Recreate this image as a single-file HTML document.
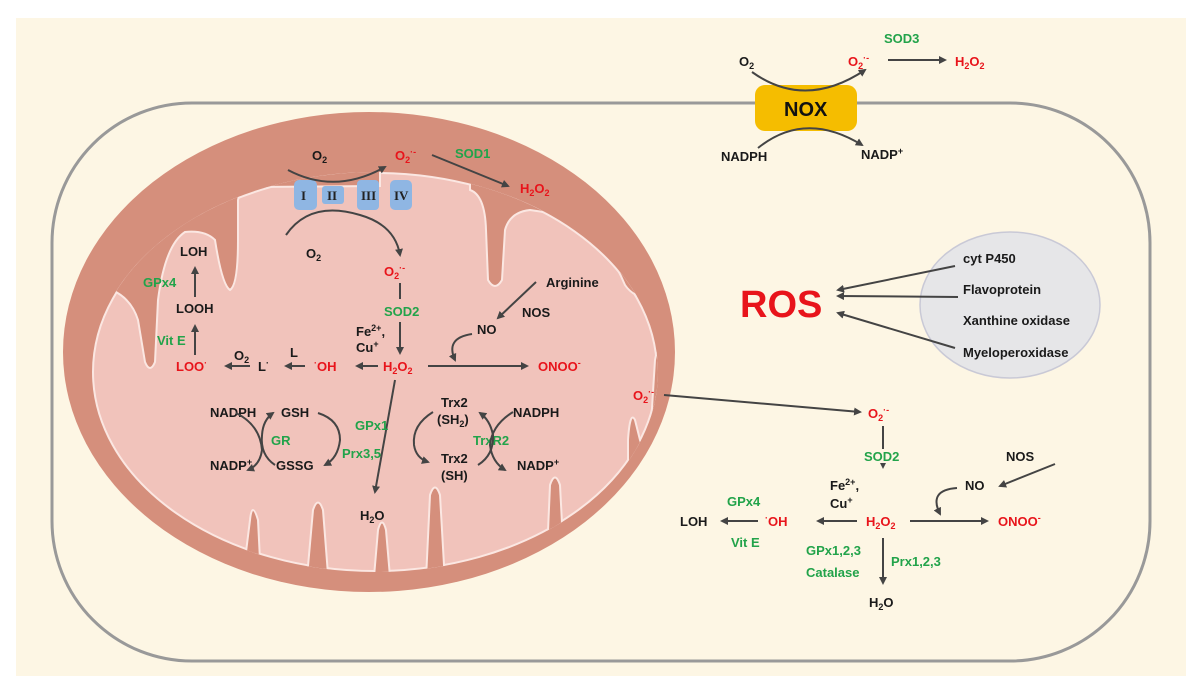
<!DOCTYPE html>
<html><head><meta charset="utf-8"><style>
html,body{margin:0;padding:0;background:#fff;}
svg{display:block;font-family:"Liberation Sans",Arial,sans-serif;font-weight:bold;}
.k{fill:#1a1a1a;font-size:13px}
.r{fill:#e8141b;font-size:13px}
.g{fill:#22a34a;font-size:13px}
.ln{stroke:#444;stroke-width:2;fill:none}
.f{fill:#d58f7c;stroke:#fbe7e2;stroke-width:2}
</style></head><body>
<svg width="1200" height="689" viewBox="0 0 1200 689" xmlns="http://www.w3.org/2000/svg">
<defs>
<marker id="a" markerWidth="8" markerHeight="8" refX="6" refY="4" orient="auto" markerUnits="userSpaceOnUse"><path d="M0,0 L8,4 L0,8 z" fill="#444"/></marker>
<clipPath id="c"><ellipse cx="375" cy="372" rx="283" ry="200"/></clipPath>
</defs>
<rect x="16" y="18" width="1170" height="658" fill="#fdf6e4"/>
<rect x="52" y="103" width="1098" height="558" rx="140" fill="#fdf6e4" stroke="#999" stroke-width="3"/>
<!-- mitochondrion -->
<ellipse cx="369" cy="352" rx="306" ry="240" fill="#d58f7c"/>
<ellipse cx="375" cy="372" rx="282" ry="199" fill="#f1c3bb" stroke="#fbe7e2" stroke-width="2"/>
<g clip-path="url(#c)">
<path class="f" d="M90,150 L90,285 Q128,288 138,320 L145,362 Q150,374 155,362 L158,300 Q165,245 185,232 Q205,230 215,240 Q222,285 230,290 Q238,285 238,240 L238,200 Q240,188 255,187 L380,186 L380,150 Z"/>
<path class="f" d="M470,150 L470,190 Q485,195 486,230 L488,280 Q495,292 502,280 L505,230 Q510,212 530,210 Q570,215 590,232 L600,150 Z"/>
<path class="f" d="M600,150 L590,232 Q610,250 625,285 Q635,300 660,300 L700,300 L700,150 Z"/>
<path class="f" d="M700,330 Q660,330 655,360 L650,440 Q646,455 640,440 L635,420 Q630,410 628,440 L628,600 L700,600 Z"/>
<path class="f" d="M240,600 L250,520 Q252,500 258,520 L262,600 Z"/>
<path class="f" d="M305,600 L313,510 Q318,495 323,510 L330,600 Z"/>
<path class="f" d="M372,600 L378,530 Q382,515 386,530 L392,600 Z"/>
<path class="f" d="M425,600 L430,495 Q435,480 440,495 L446,600 Z"/>
<path class="f" d="M545,600 L550,485 Q555,470 560,485 L566,600 Z"/>
</g>
<!-- ETC complexes -->
<rect x="294" y="180" width="23" height="30" rx="5" fill="#8fb6e3"/>
<rect x="322" y="186" width="22" height="18" rx="3" fill="#8fb6e3"/>
<rect x="357" y="180" width="22" height="30" rx="4" fill="#8fb6e3"/>
<rect x="390" y="180" width="22" height="30" rx="5" fill="#8fb6e3"/>
<g font-family="Liberation Serif,serif" font-size="13" fill="#222"><text x="301" y="200">I</text><text x="327" y="200">II</text><text x="361" y="200">III</text><text x="394" y="200">IV</text></g>
<path class="ln" d="M288,170 Q335,195 385,167" marker-end="url(#a)"/>
<path class="ln" d="M286,235 Q310,200 360,215 Q395,225 400,255" marker-end="url(#a)"/>
<text class="k" x="312" y="160">O<tspan font-size="9" dy="3">2</tspan></text>
<text class="r" x="395" y="160">O<tspan font-size="9" dy="3">2</tspan><tspan font-size="9" dy="-8">·-</tspan></text>
<text class="g" x="455" y="158">SOD1</text>
<line class="ln" x1="432" y1="155" x2="508" y2="186" marker-end="url(#a)"/>
<text class="r" x="520" y="193">H<tspan font-size="9" dy="3">2</tspan><tspan dy="-3">O</tspan><tspan font-size="9" dy="3">2</tspan></text>
<text class="k" x="306" y="258">O<tspan font-size="9" dy="3">2</tspan></text>
<text class="r" x="384" y="276">O<tspan font-size="9" dy="3">2</tspan><tspan font-size="9" dy="-8">·-</tspan></text>
<line class="ln" x1="400" y1="283" x2="400" y2="299"/>
<text class="g" x="384" y="316">SOD2</text>
<line class="ln" x1="400" y1="322" x2="400" y2="353" marker-end="url(#a)"/>
<text class="k" x="356" y="336">Fe<tspan font-size="9" dy="-5">2+</tspan><tspan dy="5">,</tspan></text>
<text class="k" x="356" y="352">Cu<tspan font-size="9" dy="-5">+</tspan></text>
<text class="r" x="383" y="371">H<tspan font-size="9" dy="3">2</tspan><tspan dy="-3">O</tspan><tspan font-size="9" dy="3">2</tspan></text>
<line class="ln" x1="428" y1="366" x2="527" y2="366" marker-end="url(#a)"/>
<text class="r" x="538" y="371">ONOO<tspan font-size="9" dy="-5">-</tspan></text>
<text class="k" x="546" y="287">Arginine</text>
<line class="ln" x1="536" y1="282" x2="498" y2="318" marker-end="url(#a)"/>
<text class="k" x="522" y="317">NOS</text>
<text class="k" x="477" y="334">NO</text>
<path class="ln" d="M472,334 Q445,338 455,360" marker-end="url(#a)"/>
<line class="ln" x1="378" y1="366" x2="357" y2="366" marker-end="url(#a)"/>
<text class="r" x="314" y="371"><tspan font-size="9" dy="-5">·</tspan><tspan dy="5">OH</tspan></text>
<line class="ln" x1="305" y1="366" x2="286" y2="366" marker-end="url(#a)"/>
<text class="k" x="290" y="357">L</text>
<text class="k" x="258" y="371">L<tspan font-size="9" dy="-5">·</tspan></text>
<text class="k" x="234" y="360">O<tspan font-size="9" dy="3">2</tspan></text>
<line class="ln" x1="250" y1="366" x2="226" y2="366" marker-end="url(#a)"/>
<text class="r" x="176" y="371">LOO<tspan font-size="9" dy="-5">·</tspan></text>
<line class="ln" x1="195" y1="355" x2="195" y2="326" marker-end="url(#a)"/>
<text class="g" x="157" y="345">Vit E</text>
<text class="k" x="176" y="313">LOOH</text>
<line class="ln" x1="195" y1="297" x2="195" y2="268" marker-end="url(#a)"/>
<text class="g" x="143" y="287">GPx4</text>
<text class="k" x="180" y="256">LOH</text>
<line class="ln" x1="395" y1="380" x2="375" y2="492" marker-end="url(#a)"/>
<text class="k" x="360" y="520">H<tspan font-size="9" dy="3">2</tspan><tspan dy="-3">O</tspan></text>
<text class="k" x="210" y="417">NADPH</text>
<text class="k" x="210" y="470">NADP<tspan font-size="9" dy="-5">+</tspan></text>
<text class="k" x="281" y="417">GSH</text>
<text class="k" x="276" y="470">GSSG</text>
<text class="g" x="271" y="445">GR</text>
<path class="ln" d="M236,413 Q260,425 262,450 Q260,465 248,470" marker-end="url(#a)"/>
<path class="ln" d="M275,465 Q260,455 262,435 Q263,420 273,413" marker-end="url(#a)"/>
<text class="g" x="355" y="430">GPx1</text>
<text class="g" x="342" y="458">Prx3,5</text>
<path class="ln" d="M318,413 Q340,420 340,440 Q338,458 325,465" marker-end="url(#a)"/>
<text class="k" x="441" y="407">Trx2</text>
<text class="k" x="437" y="424">(SH<tspan font-size="9" dy="3">2</tspan><tspan dy="-3">)</tspan></text>
<text class="k" x="441" y="463">Trx2</text>
<text class="k" x="441" y="480">(SH)</text>
<path class="ln" d="M433,412 Q412,425 414,445 Q416,458 428,462" marker-end="url(#a)"/>
<text class="g" x="473" y="445">TrxR2</text>
<text class="k" x="513" y="417">NADPH</text>
<text class="k" x="517" y="470">NADP<tspan font-size="9" dy="-5">+</tspan></text>
<path class="ln" d="M513,412 Q492,425 490,445 Q492,462 505,470" marker-end="url(#a)"/>
<path class="ln" d="M478,465 Q494,455 493,435 Q490,420 480,413" marker-end="url(#a)"/>
<!-- NOX -->
<rect x="755" y="85" width="102" height="46" rx="10" fill="#f5bd00"/>
<text x="784" y="116" style="font-size:20px;fill:#111">NOX</text>
<text class="k" x="739" y="66">O<tspan font-size="9" dy="3">2</tspan></text>
<path class="ln" d="M752,72 Q805,110 865,70" marker-end="url(#a)"/>
<text class="r" x="848" y="66">O<tspan font-size="9" dy="3">2</tspan><tspan font-size="9" dy="-8">·-</tspan></text>
<text class="g" x="884" y="43">SOD3</text>
<line class="ln" x1="888" y1="60" x2="945" y2="60" marker-end="url(#a)"/>
<text class="r" x="955" y="66">H<tspan font-size="9" dy="3">2</tspan><tspan dy="-3">O</tspan><tspan font-size="9" dy="3">2</tspan></text>
<path class="ln" d="M758,148 Q805,110 862,145" marker-end="url(#a)"/>
<text class="k" x="721" y="161">NADPH</text>
<text class="k" x="861" y="159">NADP<tspan font-size="9" dy="-5">+</tspan></text>
<!-- ROS sources -->
<ellipse cx="1010" cy="305" rx="90" ry="73" fill="#e6e6e8" stroke="#c9c9d6" stroke-width="1.5"/>
<text x="740" y="317" style="font-size:38px;fill:#e8141b">ROS</text>
<text class="k" x="963" y="263">cyt P450</text>
<text class="k" x="963" y="294">Flavoprotein</text>
<text class="k" x="963" y="325">Xanthine oxidase</text>
<text class="k" x="963" y="357">Myeloperoxidase</text>
<line class="ln" x1="955" y1="266" x2="838" y2="290" marker-end="url(#a)"/>
<line class="ln" x1="958" y1="297" x2="838" y2="296" marker-end="url(#a)"/>
<line class="ln" x1="955" y1="348" x2="838" y2="313" marker-end="url(#a)"/>
<!-- cytosol pathway -->
<text class="r" x="633" y="400">O<tspan font-size="9" dy="3">2</tspan><tspan font-size="9" dy="-8">·-</tspan></text>
<line class="ln" x1="664" y1="395" x2="860" y2="412" marker-end="url(#a)"/>
<text class="r" x="868" y="418">O<tspan font-size="9" dy="3">2</tspan><tspan font-size="9" dy="-8">·-</tspan></text>
<line class="ln" x1="883" y1="426" x2="883" y2="467" marker-end="url(#a)"/>
<rect x="862" y="449" width="44" height="14" fill="#fdf6e4"/>
<text class="g" x="864" y="461">SOD2</text>
<text class="k" x="830" y="490">Fe<tspan font-size="9" dy="-5">2+</tspan><tspan dy="5">,</tspan></text>
<text class="k" x="830" y="508">Cu<tspan font-size="9" dy="-5">+</tspan></text>
<text class="r" x="866" y="526">H<tspan font-size="9" dy="3">2</tspan><tspan dy="-3">O</tspan><tspan font-size="9" dy="3">2</tspan></text>
<line class="ln" x1="910" y1="521" x2="987" y2="521" marker-end="url(#a)"/>
<text class="r" x="998" y="526">ONOO<tspan font-size="9" dy="-5">-</tspan></text>
<text class="k" x="1006" y="461">NOS</text>
<line class="ln" x1="1055" y1="464" x2="1000" y2="486" marker-end="url(#a)"/>
<text class="k" x="965" y="490">NO</text>
<path class="ln" d="M957,488 Q928,490 940,514" marker-end="url(#a)"/>
<line class="ln" x1="857" y1="521" x2="818" y2="521" marker-end="url(#a)"/>
<text class="r" x="765" y="526"><tspan font-size="9" dy="-5">·</tspan><tspan dy="5">OH</tspan></text>
<line class="ln" x1="758" y1="521" x2="722" y2="521" marker-end="url(#a)"/>
<text class="k" x="680" y="526">LOH</text>
<text class="g" x="727" y="506">GPx4</text>
<text class="g" x="731" y="547">Vit E</text>
<line class="ln" x1="883" y1="538" x2="883" y2="583" marker-end="url(#a)"/>
<text class="g" x="806" y="555">GPx1,2,3</text>
<text class="g" x="806" y="577">Catalase</text>
<text class="g" x="891" y="566">Prx1,2,3</text>
<text class="k" x="869" y="607">H<tspan font-size="9" dy="3">2</tspan><tspan dy="-3">O</tspan></text>
</svg>
</body></html>
